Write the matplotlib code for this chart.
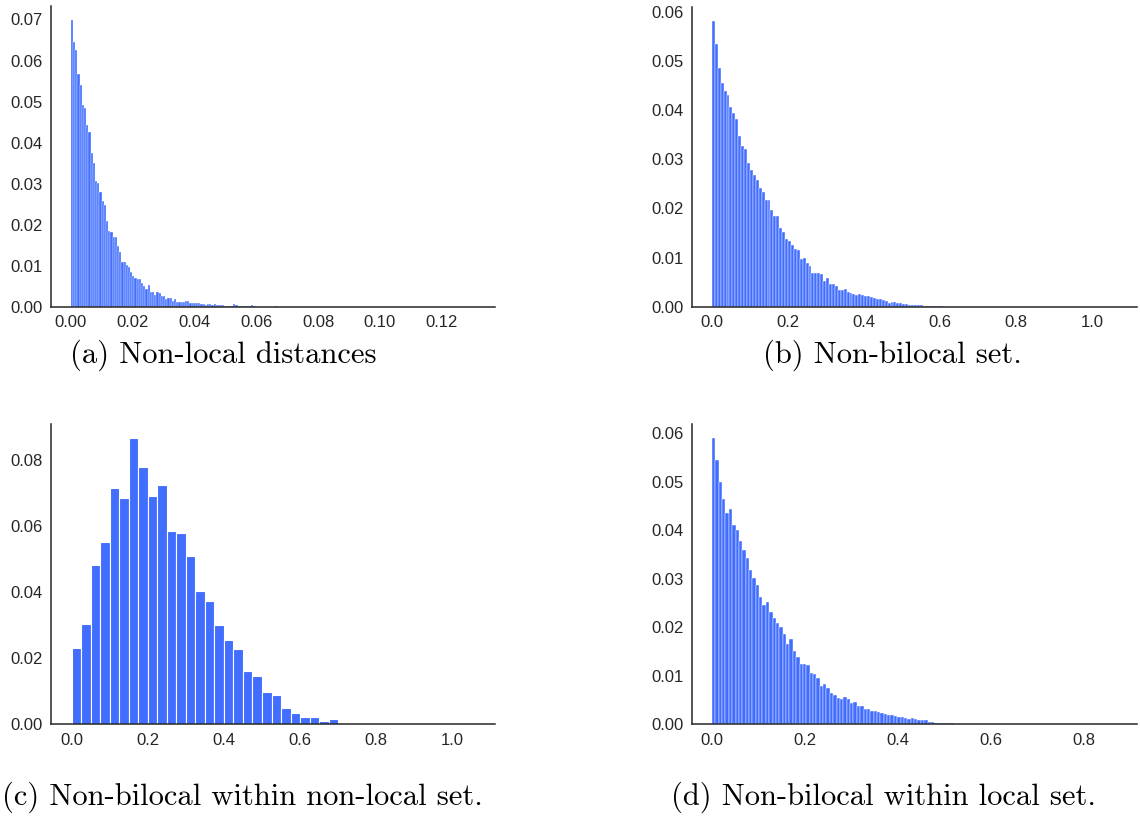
import matplotlib.pyplot as plt
import numpy as np
from matplotlib.ticker import MultipleLocator

# bar heights (fraction of samples per bin)
nonlocal_dist = [
    0.0698, 0.0644, 0.0625, 0.0568, 0.0541, 0.0491, 0.0485, 0.0442, 0.0425, 0.0375,
    0.0350, 0.0307, 0.0301, 0.0279, 0.0258, 0.0247, 0.0210, 0.0185, 0.0182, 0.0169,
    0.0171, 0.0147, 0.0133, 0.0108, 0.0108, 0.0102, 0.0098, 0.0085, 0.0076, 0.0069,
    0.0068, 0.0067, 0.0058, 0.0051, 0.0044, 0.0052, 0.0036, 0.0036, 0.0029, 0.0036,
    0.0033, 0.0027, 0.0027, 0.0018, 0.0021, 0.0021, 0.0015, 0.0020, 0.0012, 0.0011,
    0.0011, 0.0011, 0.0015, 0.0014, 0.0010, 0.0009, 0.0009, 0.0008, 0.0009, 0.0006,
    0.0006, 0.0005, 0.0006, 0.0006, 0.0005, 0.0006, 0.0005, 0.0004, 0.0004, 0.0003,
    0.0002, 0.0002, 0.0002, 0.0002, 0.0006, 0.0003, 0.0002, 0.0002, 0.0001, 0.0001,
    0.0001, 0.0001, 0.0004, 0.0001, 0.0, 0.0, 0.0, 0.0, 0.0, 0.0, 0.0, 0.0, 0.0, 0.0002]

nonbilocal_set = [
    0.0581, 0.0535, 0.0485, 0.0455, 0.0438, 0.0430, 0.0406, 0.0393, 0.0382, 0.0348,
    0.0327, 0.0321, 0.0292, 0.0279, 0.0268, 0.0257, 0.0242, 0.0233, 0.0218, 0.0217,
    0.0196, 0.0185, 0.0184, 0.0160, 0.0151, 0.0138, 0.0134, 0.0126, 0.0118, 0.0115,
    0.0097, 0.0099, 0.0088, 0.0082, 0.0068, 0.0068, 0.0068, 0.0066, 0.0052, 0.0059,
    0.0047, 0.0047, 0.0042, 0.0035, 0.0035, 0.0037, 0.0030, 0.0027, 0.0025, 0.0023,
    0.0026, 0.0023, 0.0022, 0.0021, 0.0020, 0.0017, 0.0016, 0.0015, 0.0014, 0.0011,
    0.0008, 0.0010, 0.0009, 0.0008, 0.0007, 0.0006, 0.0005, 0.0003, 0.0003, 0.0003,
    0.0003, 0.0003, 0.0002, 0.0002, 0.0002, 0.0001, 0.0001, 0.0001, 0.0001]

within_nonlocal = [
    0.0231, 0.0303, 0.0481, 0.0551, 0.0716, 0.0686, 0.0866, 0.0778, 0.0691, 0.0726,
    0.0585, 0.0580, 0.0510, 0.0405, 0.0372, 0.0301, 0.0255, 0.0228, 0.0161, 0.0146,
    0.0098, 0.0088, 0.0049, 0.0035, 0.0022, 0.0022, 0.0010, 0.0017]

within_local = [
    0.0589, 0.0545, 0.0498, 0.0464, 0.0435, 0.0444, 0.0410, 0.0401, 0.0378, 0.0359,
    0.0342, 0.0318, 0.0302, 0.0287, 0.0262, 0.0246, 0.0252, 0.0231, 0.0219, 0.0209,
    0.0201, 0.0185, 0.0165, 0.0175, 0.0151, 0.0138, 0.0124, 0.0124, 0.0122, 0.0105,
    0.0103, 0.0096, 0.0079, 0.0084, 0.0074, 0.0065, 0.0061, 0.0055, 0.0053, 0.0057,
    0.0052, 0.0043, 0.0045, 0.0037, 0.0037, 0.0032, 0.0032, 0.0028, 0.0028, 0.0025,
    0.0023, 0.0021, 0.0019, 0.0019, 0.0017, 0.0016, 0.0016, 0.0013, 0.0010, 0.0014,
    0.0010, 0.0009, 0.0009, 0.0008, 0.0004, 0.0004, 0.0003, 0.0003, 0.0002, 0.0002,
    0.0002, 0.0002, 0.0001, 0.0, 0.0, 0.0001]

captions = ['(a) Non-local distances',
            '(b) Non-bilocal set.',
            '(c) Non-bilocal within non-local set.',
            '(d) Non-bilocal within local set.']

BAR = '#416eff'
DARK = '#262626'

plt.rcParams['font.family'] = ['Liberation Sans', 'DejaVu Sans']

fig = plt.figure(figsize=(11.4, 8.19), dpi=100)


def draw_hist(rect, heights, width, xlim, xstep, ystep, lw):
    ax = fig.add_axes(rect)
    left = np.arange(len(heights)) * width
    ax.bar(left, heights, width=width, align='edge', color=BAR,
           edgecolor='white', linewidth=lw)
    ax.set_xlim(*xlim)
    ax.xaxis.set_major_locator(MultipleLocator(xstep))
    ax.yaxis.set_major_locator(MultipleLocator(ystep))
    ax.yaxis.set_major_formatter(plt.FormatStrFormatter('%.2f'))
    for s in ['top', 'right']:
        ax.spines[s].set_visible(False)
    for s in ['left', 'bottom']:
        ax.spines[s].set_color(DARK)
        ax.spines[s].set_linewidth(1.1)
    ax.tick_params(length=0, pad=6, labelsize=12, colors=DARK)
    ax.set_facecolor('white')
    return ax


ax = draw_hist([0.0445, 0.6255, 0.3897, 0.3672], nonlocal_dist, 0.00071,
               (-0.0065, 0.1372), 0.02, 0.01, 0.25)
ax.xaxis.set_major_formatter(plt.FormatStrFormatter('%.2f'))
ax = draw_hist([0.6068, 0.6255, 0.3906, 0.3663], nonbilocal_set, 0.0077,
               (-0.053, 1.118), 0.2, 0.01, 0.3)
ax.xaxis.set_major_formatter(plt.FormatStrFormatter('%.1f'))
ax = draw_hist([0.0445, 0.1156, 0.3897, 0.3667], within_nonlocal, 0.025,
               (-0.055, 1.112), 0.2, 0.02, 0.8)
ax.xaxis.set_major_formatter(plt.FormatStrFormatter('%.1f'))
ax = draw_hist([0.6068, 0.1156, 0.3906, 0.3667], within_local, 0.00725,
               (-0.0435, 0.915), 0.2, 0.01, 0.3)
ax.xaxis.set_major_formatter(plt.FormatStrFormatter('%.1f'))

# caption placement: (x, y, horizontal alignment)
cap_pos = [(0.196, 0.566, 'center'), (0.783, 0.566, 'center'),
           (0.002, 0.027, 'left'), (0.7746, 0.027, 'center')]
for (x, y, ha), txt in zip(cap_pos, captions):
    fig.text(x, y, txt, ha=ha, va='center', fontsize=22,
             family=['cmr10', 'DejaVu Serif'], color='black')

fig.savefig('out.png', dpi=100, facecolor='white')
